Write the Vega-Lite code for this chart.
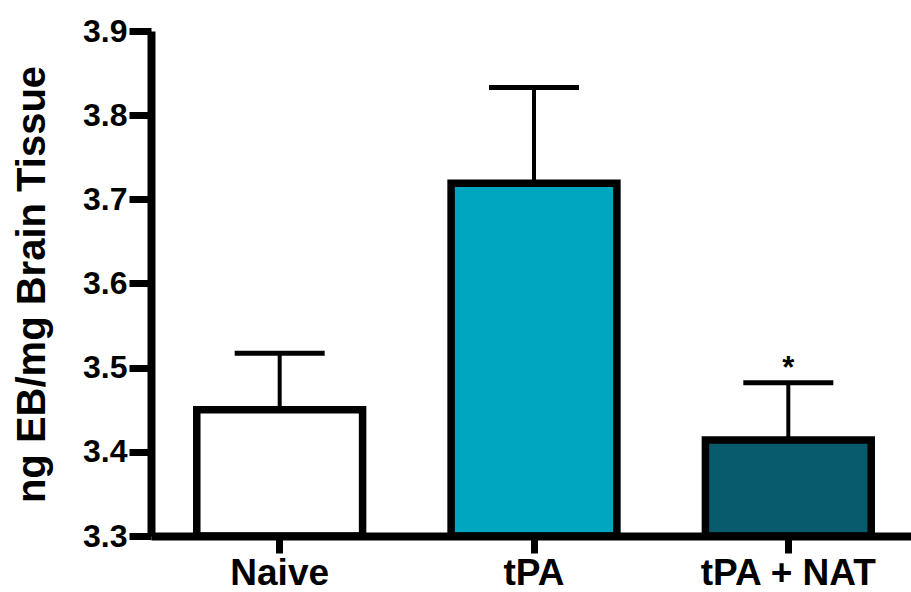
{
  "$schema": "https://vega.github.io/schema/vega-lite/v6.json",
  "autosize": {"type": "none"},
  "width": 760,
  "height": 505,
  "padding": {"left": 151, "top": 31, "right": 0, "bottom": 56},
  "background": "white",
  "config": {
    "view": {"stroke": null},
    "font": "Liberation Sans",
    "axis": {
      "domainColor": "black",
      "domainWidth": 8,
      "tickColor": "black",
      "tickWidth": 7,
      "labelColor": "black",
      "labelFont": "Liberation Sans",
      "labelFontWeight": "bold",
      "grid": false,
      "titleColor": "black"
    }
  },
  "data": {
    "values": [
      {"group": "Naive", "mean": 3.450, "upper": 3.517, "sig": ""},
      {"group": "tPA", "mean": 3.719, "upper": 3.833, "sig": ""},
      {"group": "tPA + NAT", "mean": 3.414, "upper": 3.482, "sig": "*"}
    ]
  },
  "encoding": {
    "x": {
      "field": "group",
      "type": "nominal",
      "sort": null,
      "scale": {"paddingInner": 0.348, "paddingOuter": 0.18, "range": [0, 766]},
      "axis": {"title": null, "labelAngle": 0, "labelPadding": 2, "tickSize": 17, "labelFontSize": 37, "labelLimit": 0, "zindex": 1}
    }
  },
  "layer": [
    {
      "mark": {"type": "rule", "strokeWidth": 4, "color": "black"},
      "encoding": {
        "y": {"field": "mean", "type": "quantitative"},
        "y2": {"field": "upper"}
      }
    },
    {
      "mark": {"type": "tick", "size": 90, "thickness": 5, "color": "black", "opacity": 1},
      "encoding": {
        "y": {"field": "upper", "type": "quantitative"}
      }
    },
    {
      "mark": {"type": "bar", "stroke": "black", "strokeWidth": 7.5},
      "encoding": {
        "y": {
          "field": "mean",
          "type": "quantitative",
          "scale": {"domain": [3.3, 3.9], "zero": false, "nice": false},
          "axis": {
            "title": "ng EB/mg Brain Tissue",
            "titleFontSize": 40,
            "titleFontWeight": "bold",
            "titleFont": "Liberation Sans",
            "titleX": -107,
            "titleY": 253,
            "titleAngle": -90,
            "titleAlign": "center",
            "titleBaseline": "alphabetic",
            "values": [3.3, 3.4, 3.5, 3.6, 3.7, 3.8, 3.9],
            "format": ".1f",
            "tickSize": 22,
            "labelFontSize": 32,
            "labelPadding": 2,
            "zindex": 1
          }
        },
        "y2": {"datum": 3.3},
        "fill": {
          "field": "group",
          "type": "nominal",
          "scale": {"domain": ["Naive", "tPA", "tPA + NAT"], "range": ["#ffffff", "#00a5be", "#075b6c"]},
          "legend": null
        }
      }
    },
    {
      "mark": {"type": "text", "fontSize": 31, "fontWeight": "bold", "baseline": "bottom", "dy": 2, "color": "black"},
      "encoding": {
        "y": {"field": "upper", "type": "quantitative"},
        "text": {"field": "sig"}
      }
    }
  ]
}
